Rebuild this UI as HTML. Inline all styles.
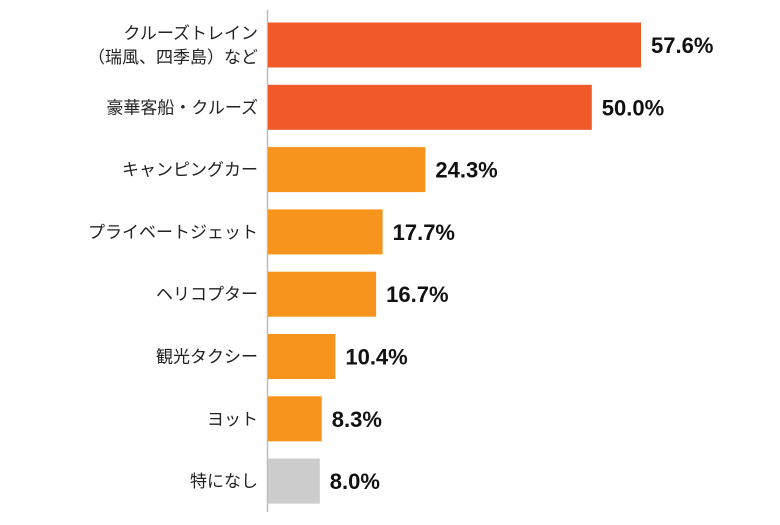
<!DOCTYPE html>
<html><head><meta charset="utf-8"><style>
body{margin:0;background:#fff;}
svg{display:block;}
.cat{font-family:"Liberation Sans","Noto Sans CJK JP",sans-serif;font-size:17px;fill:#222;}
.val{font-family:"Liberation Sans",sans-serif;font-size:22px;font-weight:bold;fill:#111;}
</style></head><body>
<svg id="chart" width="780" height="525">
<line x1="267.5" y1="10" x2="267.5" y2="512" stroke="#bbb" stroke-width="1.5"/>
</svg>
<script>
const categories=[["クルーズトレイン","（瑞風、四季島）など"],["豪華客船・クルーズ"],["キャンピングカー"],["プライベートジェット"],["ヘリコプター"],["観光タクシー"],["ヨット"],["特になし"]];
const values=[57.6,50.0,24.3,17.7,16.7,10.4,8.3,8.0];
const valueLabels=["57.6%","50.0%","24.3%","17.7%","16.7%","10.4%","8.3%","8.0%"];
const colorGroups=["top","top","mid","mid","mid","mid","mid","none"];
const colors={top:"#F05A28",mid:"#F7941E",none:"#CCCCCC"};
const NS="http://www.w3.org/2000/svg";
const svg=document.getElementById("chart");
const x0=268, pxPer=373/57.6;
const xs=v=>x0+v*pxPer;
const yTop=i=>22.5+i*62.3;
const bh=45;
values.forEach((v,i)=>{
  const r=document.createElementNS(NS,"rect");
  r.setAttribute("x",x0);r.setAttribute("y",yTop(i));
  r.setAttribute("width",xs(v)-x0);r.setAttribute("height",bh);
  r.setAttribute("fill",colors[colorGroups[i]]);
  
  
  svg.appendChild(r);
  const t=document.createElementNS(NS,"text");
  t.setAttribute("x",xs(v)+10);t.setAttribute("y",yTop(i)+bh/2+8);
  t.setAttribute("class","val");t.textContent=valueLabels[i];
  
  
  svg.appendChild(t);
  const lines=categories[i];
  lines.forEach((s,j)=>{
    const c=document.createElementNS(NS,"text");
    c.setAttribute("x",258);
    const cy=yTop(i)+bh/2+6+(j-(lines.length-1)/2)*24;
    c.setAttribute("y",cy);c.setAttribute("text-anchor","end");
    c.setAttribute("class","cat");c.textContent=s;
    
    
    svg.appendChild(c);
  });
});
</script>
</body></html>
